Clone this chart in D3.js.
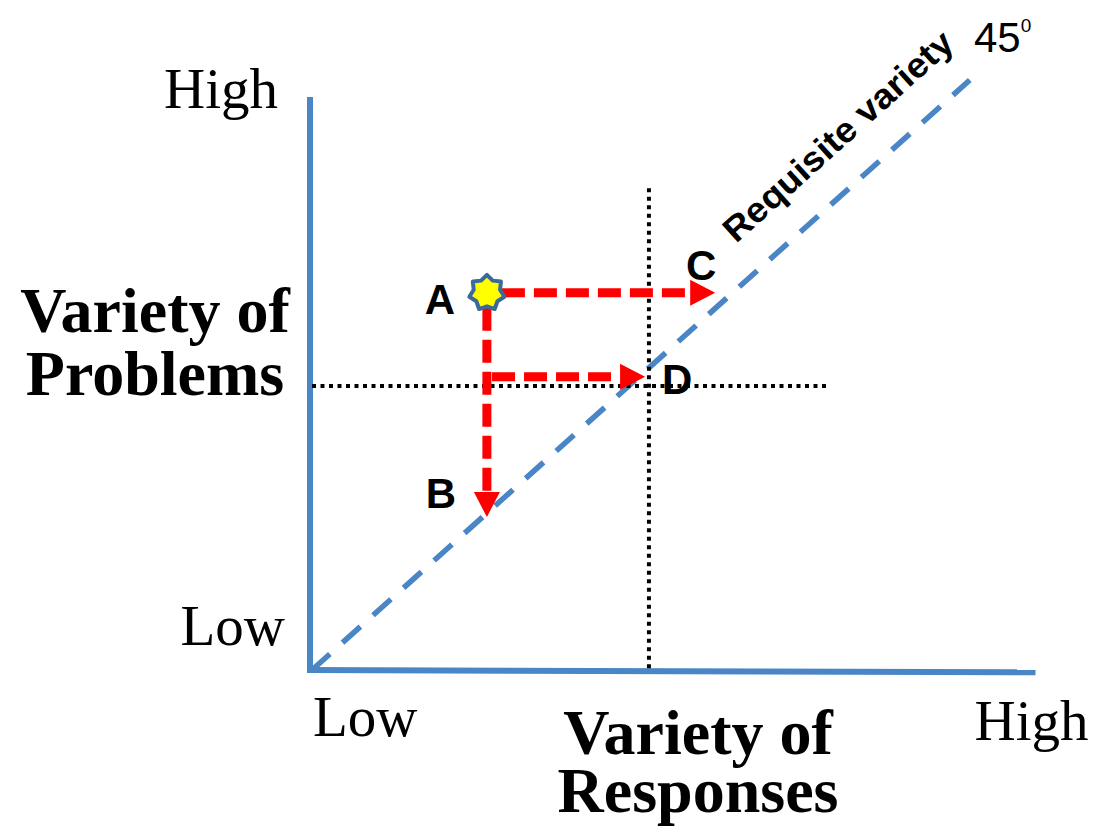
<!DOCTYPE html>
<html>
<head>
<meta charset="utf-8">
<script src="https://cdn.jsdelivr.net/npm/d3@7"></script>
<style>
  body { margin: 0; background: #fff; }
  svg { display: block; }
</style>
</head>
<body>
<svg width="1096" height="826"></svg>
<script>
// values (both axes run 0..10, "Low" to "High")
var xTickLabels = ["Low", "High"];
var yTickLabels = ["Low", "High"];
var xTitle = ["Variety of", "Responses"];
var yTitle = ["Variety of", "Problems"];
var xAxisEnd = [11.33, -0.04];
var yAxisEnd = [0, 10];
var diagonal = [[0, 0], [10.23, 10.26]];
var pointA = [2.72, 6.56];
var arrowNames = ["C", "D", "B"];
var arrowFrom = [[2.72, 6.56], [2.8, 5.1], [2.72, 6.56]];
var arrowTo = [[6.27, 6.56], [5.18, 5.1], [2.72, 2.66]];
var guideV = [[5.24, 8.38], [5.24, -0.03]];
var guideH = [[0, 4.94], [8.02, 4.94]];

var blue = "#4a86c6", red = "#ff0000";

var svg = d3.select("svg"),
width = +svg.attr("width"),
height = +svg.attr("height");

var x = d3.scaleLinear().domain([0, 10]).range([312, 955]);
var y = d3.scaleLinear().domain([0, 10]).range([670, 95]);

var line = d3.line()
  .x(function(d) { return x(d[0]); })
  .y(function(d) { return y(d[1]); });

// axes
svg.append("path")
  .attr("d", line([[0, 0], yAxisEnd]))
  .attr("stroke", blue).attr("stroke-width", 6).attr("fill", "none")
  .attr("transform", "translate(-2,2)");
svg.append("path")
  .attr("d", line([[0, 0], xAxisEnd]))
  .attr("stroke", blue).attr("stroke-width", 6).attr("fill", "none")
  .attr("transform", "translate(-5,0)");

// 45 degree line
svg.append("path")
  .attr("d", line(diagonal))
  .attr("stroke", blue).attr("stroke-width", 5.5).attr("fill", "none")
  .attr("stroke-dasharray", "24,17");

// dotted guides
[guideV, guideH].forEach(function(g) {
  svg.append("path")
    .attr("d", line(g))
    .attr("stroke", "#000").attr("stroke-width", 4).attr("fill", "none")
    .attr("stroke-dasharray", "4,4.5");
});

// red arrows
var starR = 18, headLen = 25, headHalf = 13;
arrowNames.forEach(function(name, i) {
  var p0 = [x(arrowFrom[i][0]), y(arrowFrom[i][1])],
      p1 = [x(arrowTo[i][0]), y(arrowTo[i][1])];
  var vx = p1[0] - p0[0], vy = p1[1] - p0[1];
  var mag = Math.sqrt(vx * vx + vy * vy);
  var ux = vx / mag, uy = vy / mag;
  var startOff = (arrowFrom[i][0] == pointA[0] && arrowFrom[i][1] == pointA[1]) ? starR - 3 : 0;
  var sx = p0[0] + ux * startOff, sy = p0[1] + uy * startOff;
  var bx = p1[0] - ux * headLen, by = p1[1] - uy * headLen;
  svg.append("path")
    .attr("d", "M" + sx + "," + sy + "L" + bx + "," + by)
    .attr("stroke", red).attr("stroke-width", 9).attr("fill", "none")
    .attr("stroke-dasharray", "23,9");
  svg.append("path")
    .attr("d", "M" + p1[0] + "," + p1[1] +
      "L" + (bx - uy * headHalf) + "," + (by + ux * headHalf) +
      "L" + (bx + uy * headHalf) + "," + (by - ux * headHalf) + "Z")
    .attr("fill", red);
});

// star at A
var starPts = d3.range(14).map(function(k) {
  var a = -Math.PI / 2 + k * Math.PI / 7;
  var r = k % 2 ? 13.5 : starR;
  return [x(pointA[0]) + r * Math.cos(a), y(pointA[1]) + r * Math.sin(a)];
});
svg.append("path")
  .attr("d", "M" + starPts.join("L") + "Z")
  .attr("fill", "#ffff00").attr("stroke", "#3b6a9a").attr("stroke-width", 4)
  .attr("stroke-linejoin", "round");

// point letters
var bold = "'Liberation Sans', Arial, sans-serif";
var letters = [
  {t: "A", p: pointA, dx: -47, dy: 21},
  {t: "C", p: arrowTo[0], dx: -14, dy: -13},
  {t: "D", p: arrowTo[1], dx: 32, dy: 17},
  {t: "B", p: arrowTo[2], dx: -46, dy: -9}
];
svg.selectAll("text.pt").data(letters).enter().append("text")
  .attr("class", "pt")
  .attr("x", function(d) { return x(d.p[0]) + d.dx; })
  .attr("y", function(d) { return y(d.p[1]) + d.dy; })
  .attr("text-anchor", "middle")
  .attr("font-family", bold).attr("font-weight", "bold").attr("font-size", 42)
  .text(function(d) { return d.t; });

// requisite variety label along the diagonal
svg.append("text")
  .attr("transform", "translate(736,244) rotate(-42)")
  .attr("font-family", bold).attr("font-weight", "bold").attr("font-size", 35)
  .attr("textLength", 296).attr("lengthAdjust", "spacingAndGlyphs")
  .text("Requisite variety");

var deg = svg.append("text")
  .attr("x", 974).attr("y", 52)
  .attr("font-family", bold).attr("font-size", 42);
deg.append("tspan").text("45");
deg.append("tspan").attr("font-size", 19).attr("dy", -20).text("0");

// tick labels
var serif = "'Liberation Serif', 'Times New Roman', serif";
svg.append("text").attr("x", x(0) - 34).attr("y", y(yAxisEnd[1]) + 13)
  .attr("text-anchor", "end").attr("font-family", serif).attr("font-size", 57)
  .text(yTickLabels[1]);
svg.append("text").attr("x", x(0) - 27).attr("y", y(0) - 25)
  .attr("text-anchor", "end").attr("font-family", serif).attr("font-size", 57)
  .text(yTickLabels[0]);
svg.append("text").attr("x", x(0) + 1).attr("y", y(0) + 66)
  .attr("font-family", serif).attr("font-size", 57)
  .text(xTickLabels[0]);
svg.append("text").attr("x", x(xAxisEnd[0]) + 48).attr("y", y(0) + 70)
  .attr("text-anchor", "end").attr("font-family", serif).attr("font-size", 57)
  .text(xTickLabels[1]);

// axis titles
svg.append("text").attr("text-anchor", "middle")
  .attr("font-family", serif).attr("font-weight", "bold").attr("font-size", 64)
  .selectAll("tspan").data(yTitle).enter().append("tspan")
  .attr("x", 155).attr("y", function(d, i) { return 332 + i * 63; })
  .text(function(d) { return d; });
svg.append("text").attr("text-anchor", "middle")
  .attr("font-family", serif).attr("font-weight", "bold").attr("font-size", 64)
  .selectAll("tspan").data(xTitle).enter().append("tspan")
  .attr("x", 698).attr("y", function(d, i) { return 754 + i * 58; })
  .text(function(d) { return d; });
</script>
</body>
</html>
